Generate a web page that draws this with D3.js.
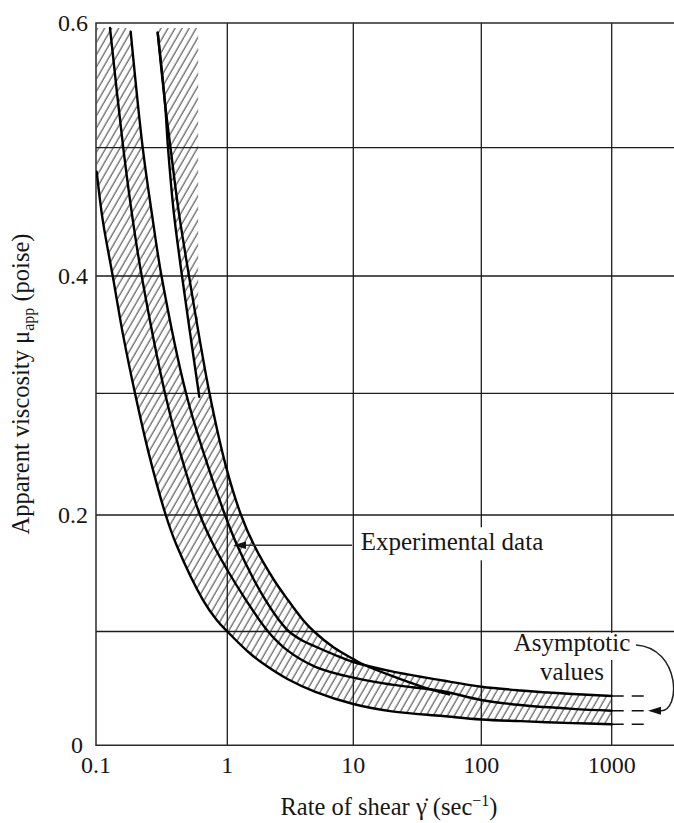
<!DOCTYPE html>
<html><head><meta charset="utf-8">
<script src="https://cdn.jsdelivr.net/npm/d3@7"></script>
<style>
body{margin:0;background:#fff}
svg{display:block}
text{font-family:"Liberation Serif","DejaVu Serif",serif;fill:#161616}
</style>
</head><body>
<svg id="c" width="674" height="823"></svg>
<script>
// ---------- data ----------
const xGridValues = [1, 10, 100, 1000];
const xTickValues = [0.1, 1, 10, 100, 1000];
const xTickLabels = ["0.1", "1", "10", "100", "1000"];
const yGridValues = [0.1, 0.2, 0.3, 0.4, 0.5];
const yTickValues = [0, 0.2, 0.4, 0.6];
const yTickLabels = ["0", "0.2", "0.4", "0.6"];

const lowerShear  = [0.1012,0.1125,0.1341,0.1606,0.1982,0.2531,0.3397,0.4103,0.6531,0.8304,1,1.5,2,3,5,10,20,50,100,200,500,1000];
const lowerVisc   = [0.4813,0.4436,0.400,0.350,0.300,0.250,0.200,0.1742,0.127,0.1099,0.100,0.0811,0.0705,0.0583,0.0470,0.0363,0.0298,0.0257,0.0227,0.0212,0.0195,0.0185];
const middleShear = [0.1278,0.1612,0.1907,0.2229,0.3353,0.4408,0.6195,0.7851,1,1.407,2.104,3,5,10,20,50,100,200,500,1000];
const middleVisc  = [0.596,0.500,0.4436,0.400,0.300,0.2501,0.200,0.1742,0.1528,0.127,0.100,0.0834,0.0690,0.0594,0.0533,0.0475,0.0398,0.0354,0.0320,0.0304];
const upperShear  = [0.1837,0.2268,0.2708,0.3154,0.4848,0.6646,0.9605,1.194,1.629,2.010,2.572,3.088,4,5,7,10,20,50,100,200,500,1000];
const upperVisc   = [0.593,0.500,0.4436,0.400,0.300,0.2501,0.200,0.1742,0.1442,0.127,0.1099,0.100,0.0917,0.0868,0.0798,0.0732,0.0649,0.0569,0.0515,0.0482,0.0451,0.0433];
const expShear    = [0.2950,0.3353,0.3694,0.4249,0.5109,0.7317,0.9775,1.285,1.629,2.348,3.031,3.989,4.876,7,10,12,20,35,56];
const expVisc     = [0.5922,0.5358,0.500,0.4514,0.400,0.300,0.2397,0.200,0.1742,0.1442,0.127,0.1099,0.100,0.0859,0.0758,0.0710,0.0609,0.0512,0.0447];
const shortShear  = [0.2950,0.3353,0.3535,0.3894,0.4519,0.6118];
const shortVisc   = [0.5922,0.5358,0.500,0.4514,0.400,0.2972];
const asymptoteShear = [1000, 1870];
const asymptoteVisc  = [0.0433, 0.0304, 0.0185];
const lowShearBoxShear = [0.1, 0.6];
const lowShearBoxVisc  = [0.297, 0.596];
const expArrowAt = [1.11, 0.174];

// ---------- scales ----------
const x = d3.scaleLog().domain([0.1, 1, 10, 100, 1000, 3000]).range([96, 227.3, 353.3, 481.3, 611.7, 673.9]);
const y = d3.scaleLinear().domain([0, 0.1, 0.2, 0.3, 0.4, 0.5, 0.6]).range([745.3, 631.5, 515, 393.3, 276, 147.7, 23]);
const X0 = x(0.1), X1 = 674, Y0 = y(0), Y1 = y(0.6);

const zip = (a, b) => a.map((v, i) => [v, b[i]]);
const L1 = zip(lowerShear, lowerVisc);
const L2 = zip(middleShear, middleVisc);
const L3 = zip(upperShear, upperVisc);
const LC = zip(expShear, expVisc);
const LS = zip(shortShear, shortVisc);

const crv = d3.curveCatmullRom.alpha(0.5);
const svg = d3.select("#c");
const line = d3.line().x(d => x(d[0])).y(d => y(d[1])).curve(crv);
const areaBelow = d3.area().x(d => x(d[0])).y0(Y0 + 5).y1(d => y(d[1])).curve(crv);
const areaAbove = d3.area().x(d => x(d[0])).y0(Y1 - 5).y1(d => y(d[1])).curve(crv);
const areaToBox = d3.area().x(d => x(d[0])).y0(y(lowShearBoxVisc[0])).y1(d => y(d[1])).curve(crv);

// ---------- defs ----------
const defs = svg.append("defs");
const pat = defs.append("pattern").attr("id", "hatch").attr("patternUnits", "userSpaceOnUse")
  .attr("width", 6.1).attr("height", 10).attr("patternTransform", "rotate(30)");
pat.append("line").attr("x1", 1).attr("y1", -1).attr("x2", 1).attr("y2", 11)
  .attr("stroke", "#262626").attr("stroke-width", 0.9);
defs.append("clipPath").attr("id", "plotClip").append("rect")
  .attr("x", X0).attr("y", Y1).attr("width", X1 - X0).attr("height", Y0 - Y1);
defs.append("clipPath").attr("id", "aboveL1").append("path").attr("d", areaAbove(L1));
defs.append("clipPath").attr("id", "hatchTop").append("rect")
  .attr("x", X0).attr("y", y(lowShearBoxVisc[1])).attr("width", X1 - X0).attr("height", Y0 - y(lowShearBoxVisc[1]));
defs.append("clipPath").attr("id", "aboveL3").append("path").attr("d", areaAbove(L3));

// ---------- hatched region (single path => uniform pattern) ----------
const bx0 = x(lowShearBoxShear[0]), bx1 = x(lowShearBoxShear[1]);
const by0 = y(lowShearBoxVisc[1]), by1 = y(lowShearBoxVisc[0]);
const hatchD =
  `M${X0 - 2},${Y1 - 5}H${x(expShear[0])}V${Y0 + 5}H${X0 - 2}Z` +
  areaBelow(LC) + areaBelow(L3) +
  `M${bx0 - 2},${by0}H${bx1}V${by1}H${bx0 - 2}Z`;
svg.append("g").attr("clip-path", "url(#plotClip)")
  .append("g").attr("clip-path", "url(#aboveL1)")
  .append("g").attr("clip-path", "url(#hatchTop)")
  .append("path").attr("d", hatchD).attr("fill", "url(#hatch)").attr("fill-rule", "nonzero");

// white gap between upper curve and the short curve
const gap = svg.append("g").attr("clip-path", "url(#aboveL3)");
gap.append("path")
  .attr("d", `M${X0},${Y1}H${x(shortShear[0]) + 0.5}V${by1}H${X0}Z` + areaToBox(LS))
  .attr("fill", "#fff");

// ---------- grid & frame ----------
const grid = svg.append("g").attr("stroke", "#1c1c1c").attr("stroke-width", 1.3);
grid.selectAll(".vg").data(xGridValues).join("line")
  .attr("x1", d => x(d)).attr("x2", d => x(d)).attr("y1", Y1).attr("y2", Y0);
grid.selectAll(".hg").data(yGridValues).join("line")
  .attr("x1", X0).attr("x2", X1).attr("y1", d => y(d)).attr("y2", d => y(d));
svg.append("path").attr("d", `M${X1},${Y1}H${X0}V${Y0}H${X1}`)
  .attr("stroke", "#2a2a2a").attr("stroke-width", 1.5).attr("fill", "none");

// ---------- curves ----------
const cg = svg.append("g").attr("clip-path", "url(#plotClip)").attr("fill", "none")
  .attr("stroke", "#000").attr("stroke-width", 2.4).attr("stroke-linecap", "round");
[L1, L2, L3, LC, LS].forEach(c => cg.append("path").attr("d", line(c)));

// asymptote dashes
svg.append("g").attr("stroke", "#111").attr("stroke-width", 1.5).attr("stroke-dasharray", "12,8")
  .selectAll("line").data(asymptoteVisc).join("line")
  .attr("x1", x(asymptoteShear[0])).attr("x2", x(asymptoteShear[1]))
  .attr("y1", d => y(d)).attr("y2", d => y(d));

// ---------- tick labels ----------
svg.append("g").style("font-size", "24px").attr("text-anchor", "middle")
  .selectAll("text").data(xTickValues).join("text")
  .attr("x", d => x(d)).attr("y", Y0 + 28).text((d, i) => xTickLabels[i]);
svg.append("g").style("font-size", "24px").attr("text-anchor", "end")
  .selectAll("text").data(yTickValues).join("text")
  .attr("x", d => d === 0 ? X0 - 13 : X0 - 8).attr("y", d => y(d)).attr("dy", "0.34em")
  .text((d, i) => yTickLabels[i]);

// ---------- axis titles ----------
const xt = svg.append("text").attr("x", 389).attr("y", 815).attr("text-anchor", "middle").style("font-size", "24.5px");
xt.append("tspan").text("Rate of shear \u03B3\u0307 (sec");
xt.append("tspan").attr("dy", -9).style("font-size", "16px").text("\u22121");
xt.append("tspan").attr("dy", 9).text(")");

const yt = svg.append("text").attr("transform", "translate(29,384) rotate(-90)")
  .attr("text-anchor", "middle").style("font-size", "24.5px");
yt.append("tspan").text("Apparent viscosity \u03BC");
yt.append("tspan").attr("dy", 5).style("font-size", "16px").text("app");
yt.append("tspan").attr("dy", -5).text(" (poise)");

// ---------- annotations ----------
const tipX = x(expArrowAt[0]), tipY = y(expArrowAt[1]);
svg.append("rect").attr("x", 356).attr("y", tipY - 18).attr("width", 194).attr("height", 33).attr("fill", "#fff");
svg.append("line").attr("x1", tipX + 12).attr("x2", 352).attr("y1", tipY).attr("y2", tipY)
  .attr("stroke", "#333").attr("stroke-width", 1.5);
svg.append("path").attr("d", `M${tipX},${tipY}L${tipX + 13},${tipY - 3.8}L${tipX + 13},${tipY + 3.8}Z`).attr("fill", "#111");
svg.append("text").attr("x", 360.7).attr("y", tipY + 5).style("font-size", "25px").text("Experimental data");

svg.append("rect").attr("x", 510).attr("y", 633).attr("width", 127).attr("height", 27).attr("fill", "#fff");
svg.append("text").attr("x", 572).attr("y", 651).attr("text-anchor", "middle").style("font-size", "25px").text("Asymptotic");
svg.append("text").attr("x", 572).attr("y", 680).attr("text-anchor", "middle").style("font-size", "25px").text("values");
const ay = y(asymptoteVisc[1]);
svg.append("path").attr("d", `M636,645C681,648 681,${ay + 2} 660,${ay}`)
  .attr("fill", "none").attr("stroke", "#222").attr("stroke-width", 1.5);
svg.append("path").attr("d", `M648,${ay}L661,${ay - 4}L661,${ay + 4}Z`).attr("fill", "#111");
</script>
</body></html>
